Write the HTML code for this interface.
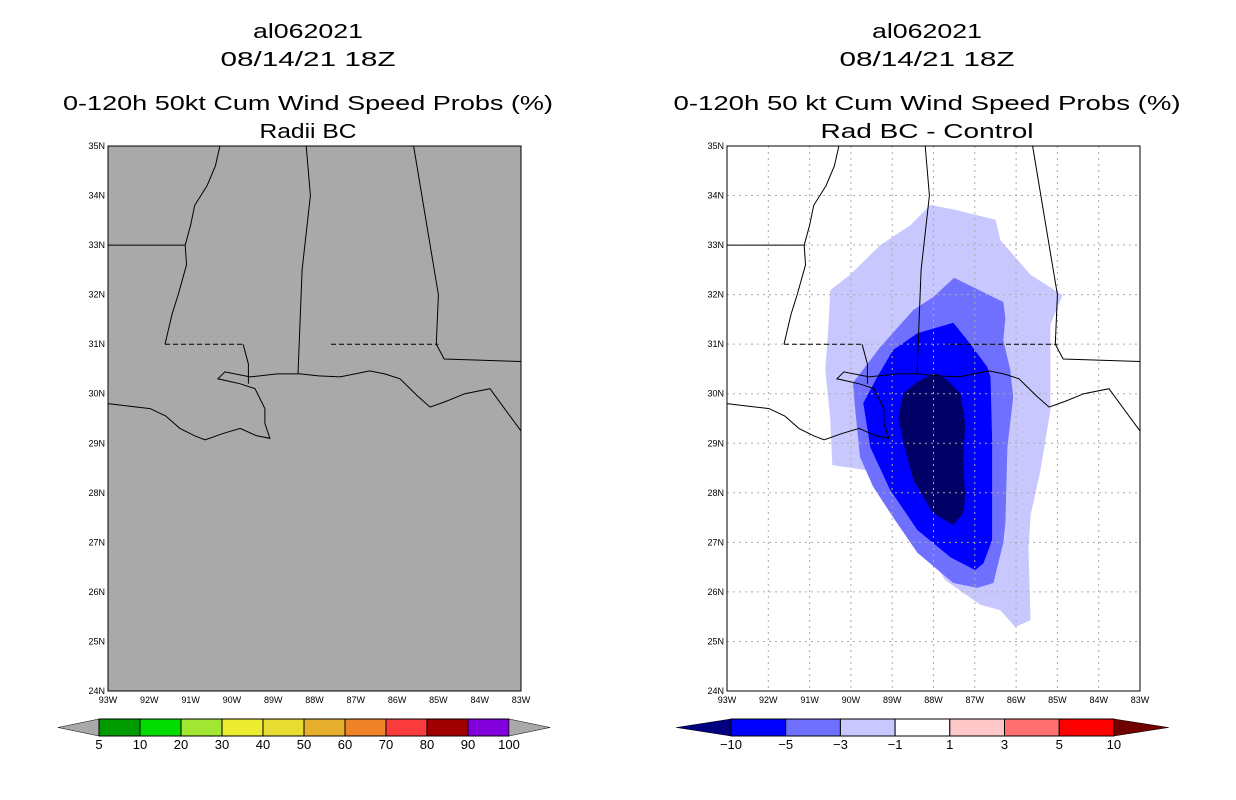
<!DOCTYPE html>
<html><head><meta charset="utf-8"><style>
body{margin:0;background:#fff;}
svg{display:block;font-family:"Liberation Sans",sans-serif;}
</style></head><body>
<svg id="s" width="1236" height="800">
<g font-size="20" text-anchor="middle" fill="#000">
<text x="308" y="38" textLength="110" lengthAdjust="spacingAndGlyphs">al062021</text><text x="308" y="66" textLength="175" lengthAdjust="spacingAndGlyphs">08/14/21 18Z</text>
<text x="308" y="110" textLength="490" lengthAdjust="spacingAndGlyphs">0-120h 50kt Cum Wind Speed Probs (%)</text><text x="308" y="138" textLength="97" lengthAdjust="spacingAndGlyphs">Radii BC</text></g>
<g font-size="20" text-anchor="middle" fill="#000">
<text x="927" y="38" textLength="110" lengthAdjust="spacingAndGlyphs">al062021</text><text x="927" y="66" textLength="175" lengthAdjust="spacingAndGlyphs">08/14/21 18Z</text>
<text x="927" y="110" textLength="507" lengthAdjust="spacingAndGlyphs">0-120h 50 kt Cum Wind Speed Probs (%)</text><text x="927" y="138" textLength="213" lengthAdjust="spacingAndGlyphs">Rad BC - Control</text></g>
<rect x="108" y="146" width="413" height="545" fill="#a9a9a9"/>
<g id="L"></g><g id="R"></g><g id="CB"></g>
</svg>
<script>
// contour polygons [lon, lat]
const contourM1=[[-88.08,33.81],[-87.47,33.71],[-86.50,33.51],[-86.38,33.10],[-85.65,32.40],[-84.88,31.99],[-85.17,31.39],[-85.17,29.67],[-85.41,28.46],[-85.65,27.55],[-85.70,26.85],[-85.65,25.43],[-86.02,25.29],[-86.38,25.63],[-86.87,25.74],[-87.72,26.24],[-88.32,27.05],[-88.98,27.85],[-89.65,28.46],[-90.45,28.56],[-90.50,29.47],[-90.62,30.48],[-90.55,31.29],[-90.50,32.09],[-90.02,32.40],[-89.29,33.00],[-88.56,33.40]];
const contourM3=[[-87.50,32.34],[-86.31,31.85],[-86.26,31.53],[-86.31,31.08],[-86.14,30.48],[-86.07,29.93],[-86.21,28.92],[-86.26,27.39],[-86.31,26.99],[-86.55,26.18],[-86.94,26.08],[-87.52,26.18],[-88.39,26.79],[-88.98,27.51],[-89.46,28.12],[-89.78,28.72],[-89.90,29.73],[-89.95,30.22],[-89.29,30.94],[-88.49,31.69],[-88.01,31.95]];
const contourM5=[[-87.52,31.43],[-87.18,31.08],[-86.70,30.54],[-86.62,30.34],[-86.58,29.07],[-86.58,27.05],[-86.79,26.58],[-86.99,26.44],[-87.59,26.70],[-88.39,27.25],[-89.05,28.06],[-89.53,28.92],[-89.70,29.81],[-89.36,30.34],[-88.98,30.88],[-88.39,31.22]];
const contourM10=[[-87.96,30.42],[-87.67,30.28],[-87.35,30.01],[-87.23,29.41],[-87.28,28.60],[-87.23,27.92],[-87.28,27.59],[-87.52,27.35],[-88.01,27.59],[-88.49,28.26],[-88.73,29.01],[-88.85,29.53],[-88.73,30.01],[-88.39,30.24]];
const coast=[[-93,29.8],[-92.5,29.75],[-91.98,29.7],[-91.6,29.55],[-91.26,29.3],[-90.9,29.15],[-90.65,29.07],[-90.2,29.2],[-89.8,29.3],[-89.4,29.15],[-89.08,29.1],[-89.2,29.4],[-89.2,29.7],[-89.44,30.1],[-89.8,30.2],[-90.34,30.3],[-90.17,30.44],[-89.56,30.34],[-88.9,30.4],[-88.35,30.4],[-87.9,30.36],[-87.38,30.34],[-86.66,30.46],[-86.3,30.4],[-85.93,30.3],[-85.5,29.95],[-85.2,29.73],[-84.8,29.85],[-84.36,30.0],[-83.75,30.1],[-83.4,29.7],[-83,29.25]];
const riverMS=[[-90.29,35],[-90.4,34.6],[-90.6,34.2],[-90.9,33.8],[-91.0,33.4],[-91.13,33],[-91.1,32.6],[-91.3,32.0],[-91.45,31.6],[-91.62,31]];
const borderMSAL=[[-88.2,35],[-88.1,34.0],[-88.3,32.5],[-88.4,30.4]];
const borderALGA=[[-85.6,35],[-85.2,33.0],[-85.0,32.0],[-85.05,31.0],[-84.86,30.7],[-83,30.65]];
const borderLAAR=[[-93,33],[-91.13,33]];
const dashed31a=[[-91.62,31],[-89.73,31]];
const dashed31b=[[-87.6,31],[-85.0,31]];
const pearl=[[-89.73,31],[-89.6,30.6],[-89.6,30.2]];
const latTicks=[24,25,26,27,28,29,30,31,32,33,34,35];
const lonTicks=[93,92,91,90,89,88,87,86,85,84,83];
const leftCats=["5","10","20","30","40","50","60","70","80","90","100"];
const leftColors=["#009b00","#00dc00","#a0e632","#ecec32","#e6dc32","#e6af2d","#f08228","#fa3c3c","#a00000","#8200dc"];
const rightCats=["-10","-5","-3","-1","1","3","5","10"];
const rightColors=["#0000ff","#7070ff","#c8c8ff","#ffffff","#ffc8c8","#ff7070","#ff0000"];
const NS="http://www.w3.org/2000/svg";
function mk(t,a,p){const e=document.createElementNS(NS,t);for(const k in a)e.setAttribute(k,a[k]);p.appendChild(e);return e;}
function panel(g,x0){
  const X=lon=>x0+(lon+93)*41.3, Y=lat=>691-(lat-24)*49.55;
  const pts=arr=>arr.map(p=>X(p[0]).toFixed(1)+","+Y(p[1]).toFixed(1)).join(" ");
  return {X,Y,pts};
}
function drawMap(gid,x0,contours){
  const g=document.getElementById(gid);const P=panel(g,x0);
  if(contours){
    mk("rect",{x:x0,y:146,width:413,height:545,fill:"#fff"},g);
    [[contourM1,"#c8c8ff","contour-minus1"],[contourM3,"#7070ff","contour-minus3"],[contourM5,"#0000ff","contour-minus5"],[contourM10,"#000066","contour-minus10"]].forEach(c=>{
      const e=mk("polygon",{points:P.pts(c[0]),fill:c[1]},g);
      
      
    });
    lonTicks.forEach(l=>{const e=mk("line",{x1:P.X(-l),x2:P.X(-l),y1:146,y2:691,stroke:"#aaa","stroke-dasharray":"2,4"},g);
      });
    latTicks.forEach(l=>{const e=mk("line",{x1:x0,x2:x0+413,y1:P.Y(l),y2:P.Y(l),stroke:"#aaa","stroke-dasharray":"2,4"},g);
      });
  }
  [[coast,"coastline",""],[riverMS,"mississippi-river",""],[borderMSAL,"ms-al-border",""],[borderALGA,"al-ga-border",""],[borderLAAR,"la-ar-border",""],[dashed31a,"la-ms-border","5,3"],[dashed31b,"al-fl-border","5,3"],[pearl,"pearl-river",""]].forEach(c=>{
    const e=mk("polyline",{points:P.pts(c[0]),fill:"none",stroke:"#000","stroke-width":1,"stroke-dasharray":c[2]||"none"},g);
    
    
  });
  const f=mk("rect",{x:x0,y:146,width:413,height:545,fill:"none",stroke:"#000"},g);
  
  latTicks.forEach(l=>{const t=mk("text",{x:x0-3,y:P.Y(l)+3,"font-size":9,"text-anchor":"end"},g);t.textContent=l+"N";
    });
  lonTicks.forEach(l=>{const t=mk("text",{x:P.X(-l),y:703,"font-size":9,"text-anchor":"middle"},g);t.textContent=l+"W";
    });
}
drawMap("L",108,false);drawMap("R",727,true);
const cb=document.getElementById("CB");
function bar(x0,w,cats,cols,lt,rt){
  const n=cols.length,y=719,h=17;
  const a=mk("polygon",{points:`${x0-w},${y+h/2} ${x0},${y} ${x0},${y+h}`,fill:lt,stroke:"#000","stroke-width":0.5},cb);
  
  cols.forEach((c,i)=>{const r=mk("rect",{x:x0+i*w,y:y,width:w,height:h,fill:c,stroke:"#000"},cb);
    });
  const xe=x0+n*w;
  const b=mk("polygon",{points:`${xe},${y} ${xe+w},${y+h/2} ${xe},${y+h}`,fill:rt,stroke:"#000","stroke-width":0.5},cb);
  
  cats.forEach((c,i)=>{const t=mk("text",{x:x0+i*w,y:749,"font-size":13,"text-anchor":"middle"},cb);t.textContent=c.replace("-","\u2212");
    });
}
bar(99,41,leftCats,leftColors,"#a9a9a9","#a9a9a9");
bar(731,54.7,rightCats,rightColors,"#000080","#700000");
</script>
</body></html>
